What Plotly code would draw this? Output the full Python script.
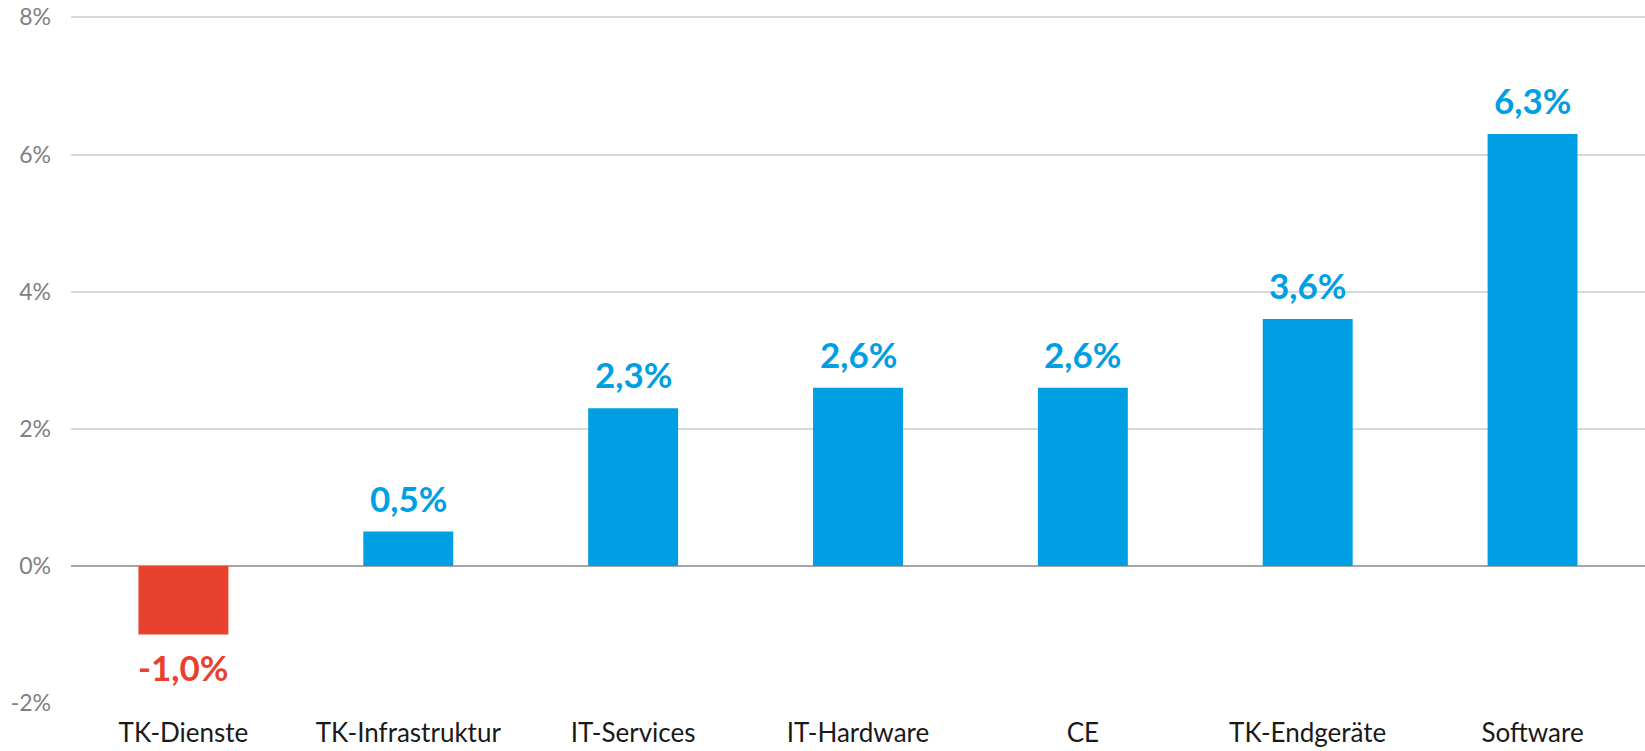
import plotly.graph_objects as go

categories = ["TK-Dienste", "TK-Infrastruktur", "IT-Services", "IT-Hardware", "CE", "TK-Endgeräte", "Software"]
values = [-1.0, 0.5, 2.3, 2.6, 2.6, 3.6, 6.3]
labels = ["-1,0%", "0,5%", "2,3%", "2,6%", "2,6%", "3,6%", "6,3%"]
y_tickvals = [-2, 0, 2, 4, 6, 8]
y_ticktext = ["-2%", "0%", "2%", "4%", "6%", "8%"]

BLUE = "#009FE3"
RED = "#E8412E"
colors = [RED if v < 0 else BLUE for v in values]

fig = go.Figure()
fig.add_trace(go.Bar(x=categories, y=values, marker=dict(color=colors, line=dict(width=0)),
                     hoverinfo="skip"))

for c, v, t, col in zip(categories, values, labels, colors):
    fig.add_annotation(x=c, y=v, text="<b>%s</b>" % t, showarrow=False,
                       yanchor="bottom" if v >= 0 else "top",
                       yshift=11 if v >= 0 else -10,
                       font=dict(family="Lato", size=35, color=col))

fig.update_layout(
    width=1645, height=751,
    margin=dict(l=71, r=0, t=14, b=48, autoexpand=False),
    paper_bgcolor="white", plot_bgcolor="white",
    bargap=0.6,
    showlegend=False,
    font=dict(family="Lato"),
)
fig.update_xaxes(tickfont=dict(family="Lato", size=26, color="#1a1a1a"), showline=False,
                 showgrid=False, ticks="", ticklabelstandoff=12, automargin=False)
fig.update_yaxes(range=[-2, 8.05], tickvals=y_tickvals, ticktext=y_ticktext,
                 tickfont=dict(family="Lato", size=23, color="#808080"),
                 showgrid=True, gridcolor="#D9D9D9", gridwidth=1.5,
                 zeroline=True, zerolinecolor="#A6A6A6", zerolinewidth=2,
                 ticks="", ticklabelstandoff=19, showline=False, automargin=False,
                 ticklabeloverflow="allow")

fig.write_html("out.html", config={"displayModeBar": False},
               post_script="document.body.style.margin='0';document.body.style.overflow='hidden';")
